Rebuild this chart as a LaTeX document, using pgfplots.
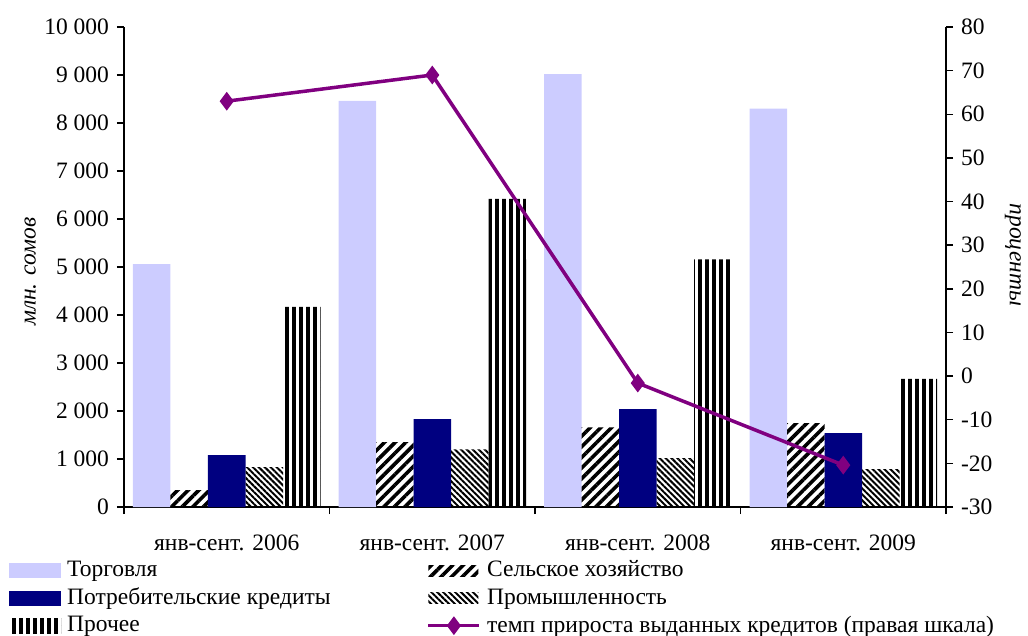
\documentclass[border=0pt]{standalone}
\usepackage{fontspec}
\setmainfont{Liberation Serif}
\usepackage{pgfplots}
\pgfplotsset{compat=1.18}
\usetikzlibrary{patterns.meta}
\definecolor{torg}{HTML}{CCCCFF}
\definecolor{potr}{HTML}{000080}
\definecolor{lin}{HTML}{800080}
\pgfplotsset{
  barlegend/.style={legend image code/.code={\draw[##1,draw=none] (0pt,-7.5pt) rectangle (52pt,7.5pt);}},
  patlegend/.style={legend image code/.code={\draw[##1,draw=none] (0pt,-5.5pt) rectangle (50pt,5.5pt);}},
  linelegend/.style={legend image code/.code={\draw[##1,mark=none] (0pt,0pt) -- (51pt,0pt); \path[##1] plot coordinates {(25.5pt,0pt)};}},
  mybar/.style={ybar, bar width=37.5pt, draw=none, barlegend},
}
\begin{document}
\fontsize{23.5}{27}\selectfont
\begin{tikzpicture}
\useasboundingbox (0,0) rectangle (1028pt,-636pt);
\begin{axis}[
  at={(124pt,-507pt)}, anchor=south west,
  scale only axis, width=822pt, height=480pt,
  xmin=-0.5, xmax=3.5, ymin=0, ymax=10000,
  axis y line*=left, axis x line*=bottom,
  axis line style={-, line width=1.5pt},
  tick align=outside, major tick length=7pt,
  every tick/.style={black, line width=1.5pt},
  xtick={-0.5,0.5,1.5,2.5,3.5},
  x tick label as interval,
  xticklabels={янв-сент. 2006, янв-сент. 2007, янв-сент. 2008, янв-сент. 2009},
  xticklabel style={yshift=-13pt},
  ytick distance=1000,
  scaled y ticks=false,
  /pgf/number format/1000 sep={\hspace{0.25em}},
  /pgf/number format/assume math mode=true,
  ylabel={\itshape млн. сомов},
  every axis y label/.style={at={(axis description cs:-0.114,0.49)}, anchor=center, rotate=90},
  legend columns=2,
  legend cell align=left,
  legend style={at={(axis description cs:-0.1399,-0.1075)}, anchor=north west, draw=none, fill=none, inner sep=0pt, row sep=3.5pt,
    /tikz/column 1/.style={column sep=4pt},
    /tikz/column 2/.style={column sep=94pt},
    /tikz/column 3/.style={column sep=4pt}},
]
\addplot[mybar, bar shift=-75pt, fill=torg] coordinates {(0,5060) (1,8460) (2,9020) (3,8300)};
\addlegendentry{Торговля}
\addplot[mybar, patlegend, bar shift=-37.5pt, pattern={Lines[angle=45,distance=7.5pt,line width=3.6pt]}] coordinates {(0,350) (1,1350) (2,1660) (3,1750)};
\addlegendentry{Сельское хозяйство}
\addplot[mybar, bar shift=0pt, fill=potr] coordinates {(0,1080) (1,1830) (2,2040) (3,1540)};
\addlegendentry{Потребительские кредиты}
\addplot[mybar, patlegend, bar shift=37.5pt, pattern={Lines[angle=-45,distance=4.2pt,line width=2pt]}] coordinates {(0,830) (1,1200) (2,1020) (3,790)};
\addlegendentry{Промышленность}
\addplot[mybar, bar shift=75pt, pattern={Lines[angle=90,distance=7pt,line width=3.5pt]}] coordinates {(0,4170) (1,6420) (2,5160) (3,2670)};
\addlegendentry{Прочее}
\addlegendimage{lin, line width=3.5pt, mark=diamond*, mark size=6.5pt, linelegend}
\addlegendentry{темп прироста выданных кредитов (правая шкала)}
\end{axis}
\begin{axis}[
  at={(124pt,-507pt)}, anchor=south west,
  scale only axis, width=822pt, height=480pt,
  xmin=-0.5, xmax=3.5, ymin=-30, ymax=80,
  axis y line*=right, axis x line=none,
  axis line style={-, line width=1.5pt},
  tick align=outside, major tick length=7pt,
  every tick/.style={black, line width=1.5pt},
  ytick distance=10,
  /pgf/number format/assume math mode=true,
  ylabel={\itshape проценты},
  every axis y label/.style={at={(axis description cs:1.0815,0.525)}, anchor=center, rotate=-90},
]
\addplot[lin, line width=3.5pt, mark=diamond*, mark size=6.5pt] coordinates {(0,63) (1,69) (2,-1.6) (3,-20.4)};
\end{axis}
\end{tikzpicture}
\end{document}
